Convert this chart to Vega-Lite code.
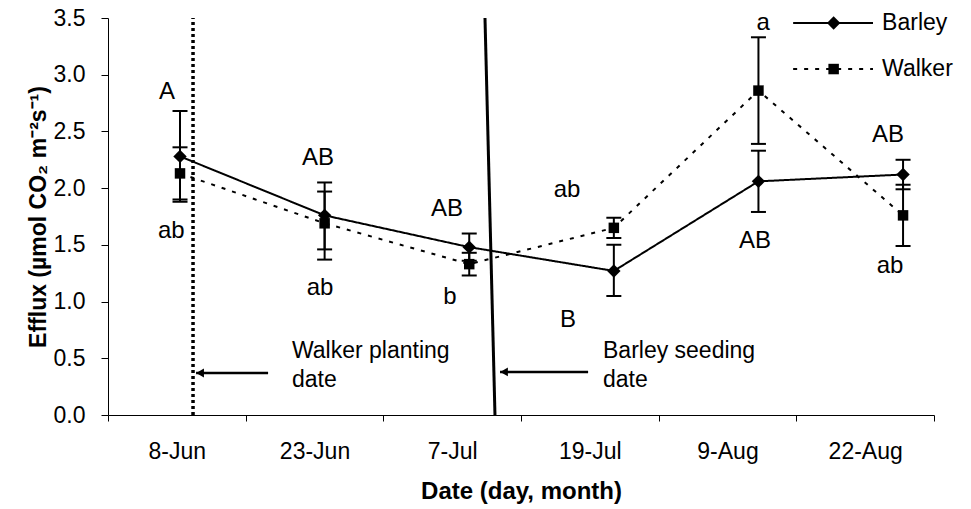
{
  "$schema": "https://vega.github.io/schema/vega-lite/v6.json",
  "width": 826,
  "height": 397,
  "autosize": {"type": "none"},
  "padding": {"left": 108, "top": 18, "right": 37, "bottom": 94},
  "background": "white",
  "config": {
    "view": {"stroke": null},
    "font": "Liberation Sans",
    "text": {"font": "Liberation Sans", "color": "black"},
    "axis": {
      "domainColor": "black",
      "tickColor": "black",
      "labelColor": "black",
      "titleColor": "black",
      "grid": false,
      "labelFont": "Liberation Sans",
      "titleFont": "Liberation Sans"
    }
  },
  "datasets": {
    "dates": [
      {"date": "8-Jun"}, {"date": "23-Jun"}, {"date": "7-Jul"},
      {"date": "19-Jul"}, {"date": "9-Aug"}, {"date": "22-Aug"}
    ],
    "obs": [
      {"i": 0, "date": "8-Jun", "series": "Barley", "value": 2.28, "lo": 1.88, "hi": 2.68},
      {"i": 1, "date": "23-Jun", "series": "Barley", "value": 1.76, "lo": 1.46, "hi": 2.05},
      {"i": 2, "date": "7-Jul", "series": "Barley", "value": 1.48, "lo": 1.36, "hi": 1.60},
      {"i": 3, "date": "19-Jul", "series": "Barley", "value": 1.27, "lo": 1.05, "hi": 1.50},
      {"i": 4, "date": "9-Aug", "series": "Barley", "value": 2.06, "lo": 1.79, "hi": 2.33},
      {"i": 5, "date": "22-Aug", "series": "Barley", "value": 2.12, "lo": 1.99, "hi": 2.25},
      {"i": 0, "date": "8-Jun", "series": "Walker", "value": 2.13, "lo": 1.90, "hi": 2.36},
      {"i": 1, "date": "23-Jun", "series": "Walker", "value": 1.69, "lo": 1.37, "hi": 1.97},
      {"i": 2, "date": "7-Jul", "series": "Walker", "value": 1.33, "lo": 1.23, "hi": 1.43},
      {"i": 3, "date": "19-Jul", "series": "Walker", "value": 1.65, "lo": 1.56, "hi": 1.74},
      {"i": 4, "date": "9-Aug", "series": "Walker", "value": 2.86, "lo": 2.39, "hi": 3.33},
      {"i": 5, "date": "22-Aug", "series": "Walker", "value": 1.76, "lo": 1.49, "hi": 2.03}
    ],
    "letters": [
      {"i": -0.09, "value": 2.85, "label": "A"},
      {"i": -0.06, "value": 1.62, "label": "ab"},
      {"i": 0.954, "value": 2.27, "label": "AB"},
      {"i": 0.968, "value": 1.12, "label": "ab"},
      {"i": 1.846, "value": 1.82, "label": "AB"},
      {"i": 1.867, "value": 1.04, "label": "b"},
      {"i": 2.676, "value": 1.98, "label": "ab"},
      {"i": 2.683, "value": 0.84, "label": "B"},
      {"i": 4.032, "value": 3.46, "label": "a"},
      {"i": 3.976, "value": 1.53, "label": "AB"},
      {"i": 4.896, "value": 2.47, "label": "AB"},
      {"i": 4.910, "value": 1.31, "label": "ab"}
    ],
    "events": [
      {"event": "Walker planting", "i": 0.09, "i2": 0.09, "value": 0, "value2": 3.5,
       "ai": 0.111, "ai2": 0.609, "av": 0.37, "ti": 0.774, "tv": 0.66, "label": "Walker planting\ndate"},
      {"event": "Barley seeding", "i": 2.178, "i2": 2.109, "value": 0, "value2": 3.5,
       "ai": 2.213, "ai2": 2.822, "av": 0.38, "ti": 2.925, "tv": 0.66, "label": "Barley seeding\ndate"}
    ],
    "key": [
      {"series": "Barley", "i": 4.24, "i2": 4.792, "mi": 4.52, "ti": 4.855, "value": 3.456},
      {"series": "Walker", "i": 4.24, "i2": 4.792, "mi": 4.52, "ti": 4.855, "value": 3.05}
    ]
  },
  "layer": [
    {
      "data": {"name": "dates"},
      "mark": {"type": "point", "opacity": 0},
      "encoding": {
        "x": {
          "field": "date",
          "type": "ordinal",
          "sort": null,
          "scale": {"type": "band", "paddingInner": 0, "paddingOuter": 0},
          "axis": {
            "title": "Date (day, month)",
            "tickBand": "extent",
            "labelAngle": 0,
            "labelFontSize": 23,
            "labelPadding": 19,
            "tickSize": 6,
            "titleFontSize": 24,
            "titleFontWeight": "bold",
            "titlePadding": 16
          }
        }
      }
    },
    {
      "layer": [
        {
          "data": {"name": "events"},
          "transform": [{"filter": "datum.event === 'Walker planting'"}],
          "mark": {"type": "rule", "strokeWidth": 3.5, "strokeDash": [3, 3], "color": "black"},
          "encoding": {
            "x": {"field": "i", "type": "quantitative", "scale": {"domain": [-0.498, 5.214], "nice": false, "zero": false}, "axis": null},
            "x2": {"field": "i2"},
            "y": {"field": "value", "type": "quantitative", "scale": {"domain": [0, 3.5], "nice": false},
              "axis": {
                "title": "Efflux (µmol CO₂ m⁻²s⁻¹)",
                "values": [0, 0.5, 1, 1.5, 2, 2.5, 3, 3.5],
                "format": ".1f",
                "labelFontSize": 23,
                "labelPadding": 16,
                "tickSize": 7,
                "titleFontSize": 23,
                "titleFontWeight": "bold",
                "titlePadding": 3
              }
            },
            "y2": {"field": "value2"}
          }
        },
        {
          "data": {"name": "events"},
          "transform": [{"filter": "datum.event === 'Barley seeding'"}],
          "mark": {"type": "rule", "strokeWidth": 3, "color": "black"},
          "encoding": {
            "x": {"field": "i", "type": "quantitative", "scale": {"domain": [-0.498, 5.214], "nice": false, "zero": false}, "axis": null},
            "x2": {"field": "i2"},
            "y": {"field": "value", "type": "quantitative"},
            "y2": {"field": "value2"}
          }
        },
        {
          "data": {"name": "events"},
          "mark": {"type": "rule", "strokeWidth": 2.5, "color": "black"},
          "encoding": {
            "x": {"field": "ai", "type": "quantitative", "scale": {"domain": [-0.498, 5.214], "nice": false, "zero": false}, "axis": null},
            "x2": {"field": "ai2"},
            "y": {"field": "av", "type": "quantitative"}
          }
        },
        {
          "data": {"name": "events"},
          "mark": {"type": "point", "shape": "triangle-left", "filled": true, "color": "black", "opacity": 1, "size": 80, "xOffset": 4},
          "encoding": {
            "x": {"field": "ai", "type": "quantitative", "scale": {"domain": [-0.498, 5.214], "nice": false, "zero": false}, "axis": null},
            "y": {"field": "av", "type": "quantitative"}
          }
        },
        {
          "data": {"name": "events"},
          "mark": {"type": "text", "align": "left", "baseline": "top", "fontSize": 23, "lineBreak": "\n", "lineHeight": 29},
          "encoding": {
            "x": {"field": "ti", "type": "quantitative", "scale": {"domain": [-0.498, 5.214], "nice": false, "zero": false}, "axis": null},
            "y": {"field": "tv", "type": "quantitative"},
            "text": {"field": "label"}
          }
        },
        {
          "data": {"name": "obs"},
          "mark": {"type": "line", "color": "black", "strokeWidth": 2},
          "encoding": {
            "x": {"field": "i", "type": "quantitative", "scale": {"domain": [-0.498, 5.214], "nice": false, "zero": false}, "axis": null},
            "y": {"field": "value", "type": "quantitative"},
            "detail": {"field": "series"},
            "strokeDash": {"field": "series", "type": "nominal", "scale": {"domain": ["Barley", "Walker"], "range": [[1, 0], [4, 7]]}, "legend": null}
          }
        },
        {
          "data": {"name": "obs"},
          "mark": {"type": "rule", "color": "black", "strokeWidth": 2},
          "encoding": {
            "x": {"field": "i", "type": "quantitative", "scale": {"domain": [-0.498, 5.214], "nice": false, "zero": false}, "axis": null},
            "y": {"field": "lo", "type": "quantitative"},
            "y2": {"field": "hi"}
          }
        },
        {
          "data": {"name": "obs"},
          "mark": {"type": "tick", "orient": "horizontal", "color": "black", "thickness": 2, "size": 15, "opacity": 1},
          "encoding": {
            "x": {"field": "i", "type": "quantitative", "scale": {"domain": [-0.498, 5.214], "nice": false, "zero": false}, "axis": null},
            "y": {"field": "lo", "type": "quantitative"}
          }
        },
        {
          "data": {"name": "obs"},
          "mark": {"type": "tick", "orient": "horizontal", "color": "black", "thickness": 2, "size": 15, "opacity": 1},
          "encoding": {
            "x": {"field": "i", "type": "quantitative", "scale": {"domain": [-0.498, 5.214], "nice": false, "zero": false}, "axis": null},
            "y": {"field": "hi", "type": "quantitative"}
          }
        },
        {
          "data": {"name": "obs"},
          "mark": {"type": "point", "filled": true, "color": "black", "opacity": 1},
          "encoding": {
            "x": {"field": "i", "type": "quantitative", "scale": {"domain": [-0.498, 5.214], "nice": false, "zero": false}, "axis": null},
            "y": {"field": "value", "type": "quantitative"},
            "shape": {"field": "series", "type": "nominal", "scale": {"domain": ["Barley", "Walker"], "range": ["diamond", "square"]}, "legend": null},
            "size": {"field": "series", "type": "nominal", "scale": {"domain": ["Barley", "Walker"], "range": [180, 110]}, "legend": null}
          }
        },
        {
          "data": {"name": "letters"},
          "mark": {"type": "text", "fontSize": 24, "baseline": "middle", "align": "center"},
          "encoding": {
            "x": {"field": "i", "type": "quantitative", "scale": {"domain": [-0.498, 5.214], "nice": false, "zero": false}, "axis": null},
            "y": {"field": "value", "type": "quantitative"},
            "text": {"field": "label"}
          }
        },
        {
          "data": {"name": "key"},
          "mark": {"type": "rule", "color": "black", "strokeWidth": 2},
          "encoding": {
            "x": {"field": "i", "type": "quantitative", "scale": {"domain": [-0.498, 5.214], "nice": false, "zero": false}, "axis": null},
            "x2": {"field": "i2"},
            "y": {"field": "value", "type": "quantitative"},
            "strokeDash": {"field": "series", "type": "nominal", "legend": null}
          }
        },
        {
          "data": {"name": "key"},
          "mark": {"type": "point", "filled": true, "color": "black", "opacity": 1},
          "encoding": {
            "x": {"field": "mi", "type": "quantitative", "scale": {"domain": [-0.498, 5.214], "nice": false, "zero": false}, "axis": null},
            "y": {"field": "value", "type": "quantitative"},
            "shape": {"field": "series", "type": "nominal", "legend": null},
            "size": {"field": "series", "type": "nominal", "legend": null}
          }
        },
        {
          "data": {"name": "key"},
          "mark": {"type": "text", "fontSize": 23, "align": "left", "baseline": "middle"},
          "encoding": {
            "x": {"field": "ti", "type": "quantitative", "scale": {"domain": [-0.498, 5.214], "nice": false, "zero": false}, "axis": null},
            "y": {"field": "value", "type": "quantitative"},
            "text": {"field": "series"}
          }
        }
      ]
    }
  ],
  "resolve": {"scale": {"x": "independent"}}
}
